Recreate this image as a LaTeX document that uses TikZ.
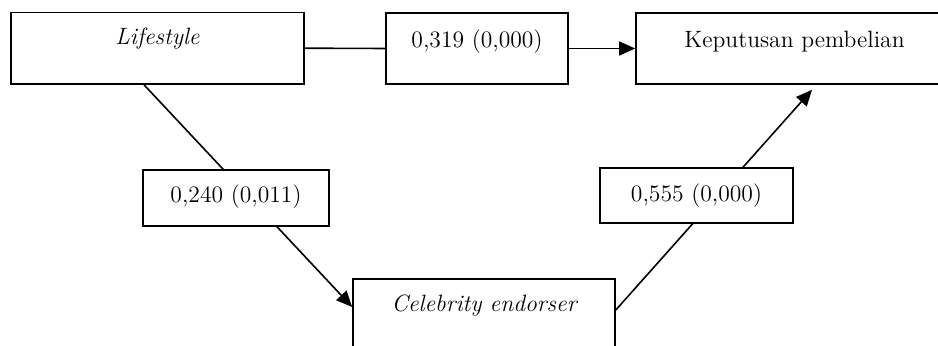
\documentclass[tikz,border=0pt]{standalone}
\usepackage{fontspec}
\usetikzlibrary{positioning,arrows.meta,backgrounds}

\newcommand{\diagsize}{\fontsize{11.8}{14}\selectfont}

\begin{document}
\begin{tikzpicture}[
    x=0.5pt, y=-0.5pt,
    font=\diagsize,
    box/.style={draw, line width=0.8pt, fill=white, inner xsep=0pt, inner ysep=0pt,
                anchor=base},
    var/.style={box, font=\diagsize\itshape},
    coef/.style={box},
    line/.style={line width=0.8pt},
    arr/.style={line, -{Triangle[length=8pt, width=7pt]}}
  ]

  \useasboundingbox (0,0) rectangle (938,346);
  \clip (0,0) rectangle (938,346);

  % ---- variables ----
  \node[var, minimum width=146.5pt, text height=16.3pt, text depth=19.5pt]
    (life) at (157.5,45) {Lifestyle};
  \node[box, minimum width=158.5pt, text height=17.5pt, text depth=18pt]
    (kep) at (794.5,48) {Keputusan pembelian};
  \node[var, minimum width=131pt, text height=16.5pt, text depth=19.5pt]
    (celeb) at (484,312) {Celebrity endorser};

  % ---- path coefficients ----
  \node[coef, minimum width=91pt, text height=17.5pt, text depth=18pt]
    (b319) at (477,48) {0,319 (0,000)};
  \node[coef, minimum width=93pt, text height=16.5pt, text depth=11.5pt]
    (b240) at (236,203) {0,240 (0,011)};
  \node[coef, minimum width=96.5pt, text height=16.75pt, text depth=10.75pt]
    (b555) at (696.5,201.5) {0,555 (0,000)};

  \begin{scope}[on background layer]
    \draw[line] (life.east) -- (b319.west);
    \draw[arr] (b319.east) -- (kep.west);
    \draw[arr] ([xshift=-6.75pt]life.south) -- ([yshift=4pt]celeb.west);
    \draw[arr] ([yshift=2.5pt]celeb.east) -- ([xshift=8.75pt, yshift=-2.5pt]kep.south);
  \end{scope}

\end{tikzpicture}
\end{document}
